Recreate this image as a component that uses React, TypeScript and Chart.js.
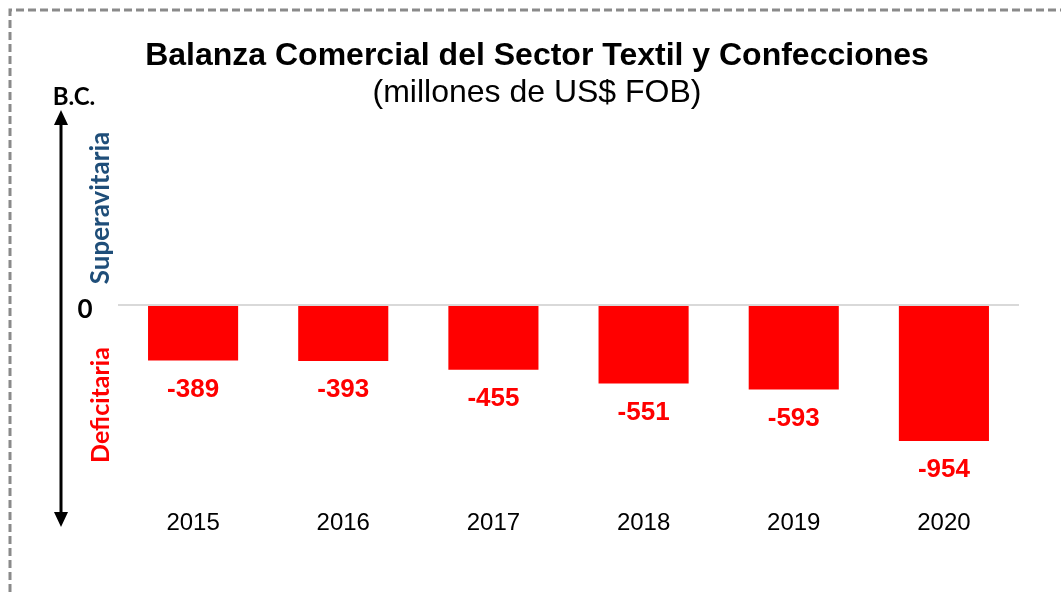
import React, { useEffect, useRef } from "react";
import { Chart, registerables } from "chart.js";

Chart.register(...registerables);

const years = ["2015", "2016", "2017", "2018", "2019", "2020"];
const balance = [-389, -393, -455, -551, -593, -954];
const titleText = "Balanza Comercial del Sector Textil y Confecciones";
const subtitleText = "(millones de US$ FOB)";
const axisLabel = "B.C.";
const upLabel = "Superavitaria";
const downLabel = "Deficitaria";
const zeroLabel = "0";

const decorPlugin = {
  id: "decor",
  afterDraw(chart: any) {
    const ctx = chart.ctx as CanvasRenderingContext2D;
    const yScale = chart.scales.y;
    const area = chart.chartArea;
    const zeroY = yScale.getPixelForValue(0);
    ctx.save();

    // dashed border
    ctx.strokeStyle = "#8a8a8a";
    ctx.lineWidth = 3;
    ctx.setLineDash([8, 4]);
    ctx.beginPath();
    ctx.moveTo(10, 592);
    ctx.lineTo(10, 10);
    ctx.lineTo(1061, 10);
    ctx.stroke();
    ctx.setLineDash([]);

    // title
    ctx.fillStyle = "#000";
    ctx.textAlign = "center";
    ctx.textBaseline = "middle";
    ctx.font = "bold 32px 'Liberation Sans', Arial, sans-serif";
    ctx.fillText(titleText, 537, 56);
    ctx.font = "32px 'Liberation Sans', Arial, sans-serif";
    ctx.fillText(subtitleText, 537, 93);

    // zero line
    ctx.strokeStyle = "#d9d9d9";
    ctx.lineWidth = 2;
    ctx.beginPath();
    ctx.moveTo(area.left, zeroY);
    ctx.lineTo(area.right, zeroY);
    ctx.stroke();

    // arrow
    const ax = 61;
    ctx.strokeStyle = "#000";
    ctx.fillStyle = "#000";
    ctx.lineWidth = 3;
    ctx.beginPath();
    ctx.moveTo(ax, 120);
    ctx.lineTo(ax, 516);
    ctx.stroke();
    ctx.beginPath();
    ctx.moveTo(ax, 110);
    ctx.lineTo(ax - 7, 125);
    ctx.lineTo(ax + 7, 125);
    ctx.closePath();
    ctx.fill();
    ctx.beginPath();
    ctx.moveTo(ax, 527);
    ctx.lineTo(ax - 7, 512);
    ctx.lineTo(ax + 7, 512);
    ctx.closePath();
    ctx.fill();

    // B.C. and 0
    ctx.font = "bold 24px Lato, 'Open Sans', sans-serif";
    ctx.textAlign = "center";
    ctx.fillStyle = "#000";
    ctx.fillText(axisLabel, 74, 97);
    ctx.font = "bold 26px Lato, 'Open Sans', sans-serif";
    ctx.fillText(zeroLabel, 85, zeroY + 5);

    // rotated labels
    ctx.save();
    ctx.font = "bold 26px Lato, 'Open Sans', sans-serif";
    ctx.translate(101, 208);
    ctx.rotate(-Math.PI / 2);
    ctx.fillStyle = "#1F4E79";
    ctx.fillText(upLabel, 0, 0);
    ctx.restore();
    ctx.save();
    ctx.font = "bold 25px Lato, 'Open Sans', sans-serif";
    ctx.translate(101, 405);
    ctx.rotate(-Math.PI / 2);
    ctx.fillStyle = "#FF0000";
    ctx.fillText(downLabel, 0, 0);
    ctx.restore();

    // value labels
    const meta = chart.getDatasetMeta(0);
    ctx.font = "bold 26px 'Liberation Sans', Arial, sans-serif";
    ctx.fillStyle = "#FF0000";
    ctx.textAlign = "center";
    ctx.textBaseline = "middle";
    meta.data.forEach((bar: any, i: number) => {
      ctx.fillText(String(balance[i]), bar.x, bar.y + 29);
    });

    ctx.restore();
  },
};

export default function App() {
  const ref = useRef<HTMLCanvasElement>(null);
  useEffect(() => {
    if (!ref.current) return;
    const chart = new Chart(ref.current, {
      type: "bar",
      data: {
        labels: years,
        datasets: [
          {
            data: balance,
            backgroundColor: "#FF0000",
            borderWidth: 0,
            categoryPercentage: 1,
            barPercentage: 0.6,
          },
        ],
      },
      options: {
        animation: false,
        responsive: false,
        maintainAspectRatio: false,
        layout: { padding: { left: 118, right: 42, top: 134, bottom: 36 } },
        plugins: { legend: { display: false }, tooltip: { enabled: false } },
        scales: {
          x: {
            grid: { display: false, drawTicks: false },
            border: { display: false },
            ticks: {
              color: "#000",
              padding: 18.5,
              font: { family: "'Liberation Sans', Arial, sans-serif", size: 24 },
            },
          },
          y: {
            display: false,
            min: -1300,
            max: 1200,
          },
        },
      },
      plugins: [decorPlugin],
    });
    return () => chart.destroy();
  }, []);
  return (
    <div style={{ position: "fixed", left: 0, top: 0, width: 1061, height: 592, background: "#fff" }}>
      <canvas ref={ref} width={1061} height={592} style={{ display: "block" }} />
    </div>
  );
}
